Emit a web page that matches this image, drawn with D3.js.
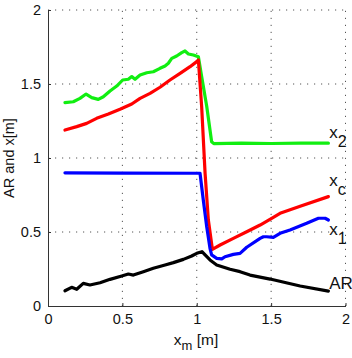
<!DOCTYPE html>
<html><head><meta charset="utf-8">
<script src="https://cdn.jsdelivr.net/npm/d3@7"></script>
<style>html,body{margin:0;padding:0;background:#fff;}svg{display:block;font-family:"Liberation Sans",Arial,sans-serif;}</style>
</head><body>
<script>
const xTicks = [0, 0.5, 1, 1.5, 2];
const yTicks = [0, 0.5, 1, 1.5, 2];
const xTickLabels = ["0", "0.5", "1", "1.5", "2"];
const yTickLabels = ["0", "0.5", "1", "1.5", "2"];

const x2X = [0.114,0.17,0.215,0.256,0.294,0.338,0.372,0.417,0.462,0.502,0.54,0.563,0.585,0.619,0.664,0.708,0.753,0.787,0.809,0.832,0.865,0.899,0.921,0.944,0.977,1.011,1.033,1.067,1.1,1.115,1.3,1.5,1.7,1.885];
const x2Y = [1.374,1.38,1.403,1.432,1.408,1.396,1.414,1.453,1.486,1.527,1.532,1.55,1.532,1.561,1.576,1.583,1.606,1.622,1.64,1.673,1.689,1.712,1.723,1.703,1.696,1.684,1.55,1.35,1.11,1.097,1.1,1.098,1.1,1.1];

const xcX = [0.114,0.193,0.26,0.327,0.406,0.484,0.563,0.619,0.686,0.753,0.82,0.888,0.955,1.0,1.011,1.033,1.056,1.078,1.105,1.157,1.246,1.336,1.426,1.515,1.56,1.7,1.885];
const xcY = [1.189,1.212,1.234,1.268,1.297,1.329,1.365,1.403,1.437,1.478,1.527,1.572,1.617,1.651,1.662,1.347,0.897,0.581,0.383,0.412,0.457,0.502,0.547,0.599,0.626,0.675,0.739];

const x1X = [0.114,0.5,1.0,1.022,1.044,1.067,1.089,1.1,1.134,1.168,1.19,1.246,1.291,1.336,1.426,1.448,1.47,1.515,1.56,1.627,1.739,1.818,1.863,1.885];
const x1Y = [0.9,0.898,0.897,0.897,0.716,0.536,0.39,0.345,0.322,0.318,0.333,0.349,0.356,0.397,0.457,0.468,0.468,0.464,0.491,0.514,0.559,0.593,0.593,0.581];

const arX = [0.114,0.159,0.193,0.237,0.282,0.35,0.417,0.496,0.54,0.574,0.641,0.708,0.787,0.843,0.91,0.966,1.0,1.035,1.089,1.134,1.224,1.291,1.358,1.493,1.695,1.885];
const arY = [0.103,0.126,0.113,0.153,0.142,0.157,0.18,0.203,0.216,0.209,0.232,0.255,0.277,0.293,0.315,0.338,0.356,0.367,0.311,0.277,0.248,0.232,0.209,0.182,0.135,0.101];

const series = [
  {name: "x2", xs: x2X, ys: x2Y, color: "#11ee11"},
  {name: "xc", xs: xcX, ys: xcY, color: "#ff0000"},
  {name: "x1", xs: x1X, ys: x1Y, color: "#0000ff"},
  {name: "AR", xs: arX, ys: arY, color: "#000000"}
];

const W = 352, H = 358;
const mLeft = 48, mRight = 345.5, mTop = 10, mBottom = 306;
const svg = d3.select("body").append("svg").attr("width", W).attr("height", H);
const x = d3.scaleLinear().domain([0, 2]).range([mLeft, mRight]);
const y = d3.scaleLinear().domain([0, 2]).range([mBottom, mTop]);

// grid
const grid = svg.append("g");
xTicks.filter(t => t > 0).forEach(t => {
  grid.append("line").attr("x1", x(t)).attr("x2", x(t)).attr("y1", y(0)).attr("y2", y(2))
    .attr("stroke", "#555").attr("stroke-width", 1).attr("stroke-dasharray", "1.2,5.8");
});
yTicks.filter(t => t > 0).forEach(t => {
  grid.append("line").attr("x1", x(0)).attr("x2", x(2)).attr("y1", y(t)).attr("y2", y(t))
    .attr("stroke", "#555").attr("stroke-width", 1).attr("stroke-dasharray", "1.2,5.8");
});

// axes
const xAxis = d3.axisBottom(x).tickValues(xTicks).tickFormat((d, i) => xTickLabels[i]).tickSizeInner(-3).tickSizeOuter(0).tickPadding(8);
const yAxis = d3.axisLeft(y).tickValues(yTicks).tickFormat((d, i) => yTickLabels[i]).tickSizeInner(-3).tickSizeOuter(0).tickPadding(7);
const gx = svg.append("g").attr("transform", `translate(0,${mBottom})`).call(xAxis);
const gy = svg.append("g").attr("transform", `translate(${mLeft},0)`).call(yAxis);
[gx, gy].forEach(g => {
  g.select(".domain").attr("stroke", "#333").attr("stroke-width", 1);
  g.selectAll(".tick line").attr("stroke", "#333");
  g.selectAll(".tick text").attr("font-size", 14.5).attr("fill", "#111")
    .attr("font-family", "'Liberation Sans', Arial, sans-serif");
});

// lines
const lines = svg.append("g");
series.forEach(s => {
  const pts = s.xs.map((v, i) => [v, s.ys[i]]);
  lines.append("path").datum(pts)
    .attr("d", d3.line().x(d => x(d[0])).y(d => y(d[1])))
    .attr("fill", "none").attr("stroke", s.color).attr("stroke-width", 3.2)
    .attr("stroke-linejoin", "round").attr("stroke-linecap", "round");
});

// annotations
const ann = svg.append("g").attr("font-size", 17).attr("fill", "#111");
function sublabel(px, py, main, sub) {
  const t = ann.append("text").attr("x", px).attr("y", py);
  t.append("tspan").text(main);
  if (sub) t.append("tspan").attr("dy", 9).attr("font-size", 16).text(sub);
}
sublabel(x(1.89), y(1.1) - 5, "x", "2");
sublabel(x(1.89), y(0.74) - 10, "x", "c");
sublabel(x(1.89), y(0.48), "x", "1");
sublabel(x(1.89), y(0.1) - 2, "AR", null);

// axis labels
const xl = svg.append("text").attr("x", 196).attr("y", 345).attr("text-anchor", "middle")
  .attr("font-size", 15.5).attr("fill", "#111");
xl.append("tspan").text("x");
xl.append("tspan").attr("dy", 5).attr("font-size", 13).text("m");
xl.append("tspan").attr("dy", -5).text(" [m]");

svg.append("text").attr("transform", `translate(13.5,158) rotate(-90)`).attr("text-anchor", "middle")
  .attr("font-size", 14.5).attr("fill", "#111").text("AR and x[m]");
</script>
</body></html>
